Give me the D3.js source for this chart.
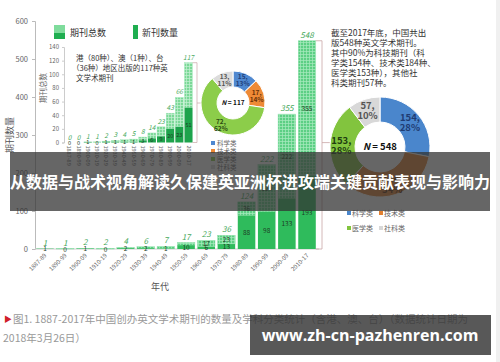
<!DOCTYPE html>
<html>
    <head>
        <title>英文学术期刊</title>
        <meta charset="utf-8">
        <script src="https://d3js.org/d3.v7.min.js"></script>
        <style>
            body { margin: 0; background: #fff; }
            text { font-family: "Noto Sans CJK SC", "Noto Sans", sans-serif; }
        </style>
    </head>
    <body>
        <script>
            // main chart: all journals (including HK/Macao/Taiwan)
            var decades = ["1887-89", "1890-99", "1900-09", "1910-19", "1920-29", "1930-39", "1940-49",
                           "1950-59", "1960-69", "1970-79", "1980-89", "1990-99", "2000-09", "2010-17"];
            var totals = [1, 1, 2, 2, 4, 6, 7, 17, 23, 36, 124, 222, 355, 548];
            var newCounts = [1, 0, 1, 0, 2, 2, 1, 10, 6, 13, 88, 98, 133, 193];
            var yTicks = [0, 100, 200, 300, 400, 500, 600];

            // inset: HK / Macao / Taiwan
            var hmtTotals = [0, 0, 1, 1, 2, 3, 4, 5, 8, 14, 23, 43, 66, 117];
            var hmtNew = [0, 0, 1, 0, 1, 1, 1, 1, 3, 6, 9, 20, 23, 51];
            var hmtTicks = [0, 20, 40, 60, 80, 100, 120, 140];

            // donuts
            var subjects = ["科学类", "技术类", "医学类", "社科类"];
            var hmtSubject = [15, 17, 72, 13];
            var hmtPct = ["13%", "14%", "62%", "11%"];
            var allSubject = [154, 184, 153, 57];
            var allPct = ["28%", "34%", "28%", "10%"];

            var W = 500, H = 362;
            var svg = d3.select("body").append("svg")
                    .attr("width", W).attr("height", H);

            var defs = svg.append("defs");
            function gridPattern(id, bg, line){
                var p = defs.append("pattern").attr("id", id)
                        .attr("width", 3).attr("height", 3)
                        .attr("patternUnits", "userSpaceOnUse");
                p.append("rect").attr("width", 3).attr("height", 3).attr("fill", bg);
                p.append("path").attr("d", "M0,0.5H3M0.5,0V3")
                        .attr("stroke", line).attr("stroke-width", 0.7);
            }
            gridPattern("gridMain", "#5ccf84", "#a8eabf");
            gridPattern("gridInset", "#7bd897", "#c4f0d2");

            var subjColors = ["#4f88d0", "#ee8a36", "#8ccd4a", "#dcdcdc"];
            var subjColors2 = ["#4a86cc", "#e38030", "#82c43e", "#d8d8d8"];

            // ---------- main chart ----------
            var x = d3.scaleBand().domain(decades).range([35, 317]).paddingInner(0.13).paddingOuter(0.06);
            var y = d3.scaleLinear().domain([0, 600]).range([249, 21]);

            var yAxis = svg.append("g").attr("transform", "translate(35,0)")
                    .call(d3.axisLeft(y).tickValues(yTicks).tickSize(3).tickPadding(4));
            yAxis.select(".domain").attr("stroke", "#bbb");
            yAxis.selectAll(".tick line").attr("stroke", "#bbb");
            yAxis.selectAll("text").attr("fill", "#666").style("font-size", "7.5px");

            svg.append("line").attr("x1", 35).attr("x2", 319)
                    .attr("y1", y(0)).attr("y2", y(0)).attr("stroke", "#ccc");

            svg.append("text").attr("transform", "translate(13,135) rotate(-90)")
                    .attr("text-anchor", "middle").attr("fill", "#555")
                    .style("font-size", "9px").text("期刊数量");

            var bars = svg.selectAll(".bar").data(decades).enter().append("g");
            bars.append("rect")
                    .attr("x", function(d){ return x(d); })
                    .attr("width", x.bandwidth())
                    .attr("y", function(d, i){ return y(totals[i]); })
                    .attr("height", function(d, i){ return y(newCounts[i]) - y(totals[i]); })
                    .attr("fill", "url(#gridMain)").attr("stroke", "#8fe0aa").attr("stroke-width", 0.5);
            bars.append("rect")
                    .attr("x", function(d){ return x(d); })
                    .attr("width", x.bandwidth())
                    .attr("y", function(d, i){ return y(newCounts[i]); })
                    .attr("height", function(d, i){ return y(0) - y(newCounts[i]); })
                    .attr("fill", "#2fbb5c");
            bars.append("text")
                    .attr("x", function(d){ return x(d) + x.bandwidth() / 2; })
                    .attr("y", function(d, i){ return y(totals[i]) - 3; })
                    .attr("text-anchor", "middle").attr("fill", "#45a85a")
                    .style("font-size", "8px").style("font-style", "italic")
                    .text(function(d, i){ return totals[i]; });
            bars.append("text")
                    .attr("x", function(d){ return x(d) + x.bandwidth() / 2; })
                    .attr("y", function(d, i){ return (y(0) + y(newCounts[i])) / 2 + 2.5; })
                    .attr("text-anchor", "middle").attr("fill", "#1d3d25")
                    .style("font-size", "6.5px")
                    .text(function(d, i){ return newCounts[i]; });
            bars.filter(function(d, i){ return i >= 8; }).append("text")
                    .attr("x", function(d){ return x(d) + x.bandwidth() / 2; })
                    .attr("y", function(d){ var i = decades.indexOf(d); return (y(totals[i]) + y(newCounts[i])) / 2 + 2.5; })
                    .attr("text-anchor", "middle").attr("fill", "#1d3d25")
                    .style("font-size", "6.5px")
                    .text(function(d){ var i = decades.indexOf(d); return totals[i] - newCounts[i]; });

            svg.selectAll(".xl").data(decades).enter().append("text")
                    .attr("transform", function(d){ return "translate(" + (x(d) + x.bandwidth() / 2 + 2) + "," + (y(0) + 7) + ") rotate(-45)"; })
                    .attr("text-anchor", "end").attr("fill", "#666")
                    .style("font-size", "6px").text(function(d){ return d; });
            svg.append("text").attr("x", 160).attr("y", 290).attr("text-anchor", "middle")
                    .attr("fill", "#555").style("font-size", "9px").text("年代");

            // legend
            svg.append("rect").attr("x", 54).attr("y", 25).attr("width", 11).attr("height", 8).attr("fill", "#7fdc9c");
            svg.append("rect").attr("x", 54).attr("y", 33).attr("width", 11).attr("height", 6).attr("fill", "#1fae50");
            svg.append("text").attr("x", 70).attr("y", 36).attr("fill", "#333").style("font-size", "9px").text("期刊总数");
            svg.append("rect").attr("x", 133).attr("y", 25).attr("width", 5).attr("height", 14).attr("fill", "#1fae50");
            svg.append("text").attr("x", 142).attr("y", 36).attr("fill", "#333").style("font-size", "9px").text("新刊数量");

            // bracket to right donut
            var lastX = x(decades[13]) + x.bandwidth();
            svg.append("path")
                    .attr("d", "M" + lastX + "," + y(548) + "H322V" + y(0) + "H" + lastX + "M322," + y(280) + "H330")
                    .attr("fill", "none").attr("stroke", "#c9a6a6").attr("stroke-width", 0.8);

            // ---------- inset ----------
            var xi = d3.scaleBand().domain(decades).range([65, 193]).paddingInner(0.12).paddingOuter(0.05);
            var yi = d3.scaleLinear().domain([0, 140]).range([142.5, 47]);

            var yiAxis = svg.append("g").attr("transform", "translate(64,0)")
                    .call(d3.axisLeft(yi).tickValues(hmtTicks).tickSize(2).tickPadding(3));
            yiAxis.select(".domain").attr("stroke", "#ccc");
            yiAxis.selectAll(".tick line").attr("stroke", "#ccc");
            yiAxis.selectAll("text").attr("fill", "#666").style("font-size", "6px");
            svg.append("text").attr("transform", "translate(46,88) rotate(-90)")
                    .attr("text-anchor", "middle").attr("fill", "#666")
                    .style("font-size", "7.5px").text("期刊总数");

            var ib = svg.selectAll(".ibar").data(decades).enter().append("g");
            ib.append("rect")
                    .attr("x", function(d){ return xi(d); })
                    .attr("width", xi.bandwidth())
                    .attr("y", function(d, i){ return yi(hmtTotals[i]); })
                    .attr("height", function(d, i){ return yi(hmtNew[i]) - yi(hmtTotals[i]); })
                    .attr("fill", "url(#gridInset)").attr("stroke", "#9fe5b6").attr("stroke-width", 0.4);
            ib.append("rect")
                    .attr("x", function(d){ return xi(d); })
                    .attr("width", xi.bandwidth())
                    .attr("y", function(d, i){ return yi(hmtNew[i]); })
                    .attr("height", function(d, i){ return yi(0) - yi(hmtNew[i]); })
                    .attr("fill", "#1ea34c");
            ib.append("text")
                    .attr("x", function(d){ return xi(d) + xi.bandwidth() / 2; })
                    .attr("y", function(d, i){ return yi(hmtTotals[i]) - 3; })
                    .attr("text-anchor", "middle").attr("fill", "#45a85a")
                    .style("font-size", "6.5px").style("font-style", "italic")
                    .text(function(d, i){ return hmtTotals[i]; });
            ib.append("text")
                    .attr("x", function(d){ return xi(d) + xi.bandwidth() / 2; })
                    .attr("y", function(d, i){ return (yi(0) + yi(hmtNew[i])) / 2 + 2; })
                    .attr("text-anchor", "middle").attr("fill", "#1d3d25")
                    .style("font-size", "5.5px")
                    .text(function(d, i){ return hmtNew[i]; });
            svg.selectAll(".xil").data(decades).enter().append("text")
                    .attr("transform", function(d){ return "translate(" + (xi(d) + xi.bandwidth() / 2 - 2) + "," + (yi(0) + 3) + ") rotate(90)"; })
                    .attr("fill", "#666").style("font-size", "5.5px").text(function(d){ return d; });

            var note = svg.append("text").attr("fill", "#333").style("font-size", "7.5px");
            ["港（80种）、澳（1种）、台", "（36种）地区出版的117种英", "文学术期刊"].forEach(function(s, k){
                note.append("tspan").attr("x", k === 1 ? 72 : 76).attr("y", 61 + k * 10).text(s);
            });

            var iLast = xi(decades[13]) + xi.bandwidth();
            svg.append("path")
                    .attr("d", "M" + iLast + "," + yi(117) + "H197V" + yi(0) + "H" + iLast + "M197,103H203")
                    .attr("fill", "none").attr("stroke", "#c9a6a6").attr("stroke-width", 0.7);

            // ---------- donuts ----------
            function donut(cx, cy, r0, r1, vals, pcts, colors, fs, nfs, labelColors, nText){
                var g = svg.append("g").attr("transform", "translate(" + cx + "," + cy + ")");
                var arcs = d3.pie().sort(null)(vals);
                var arc = d3.arc().innerRadius(r0).outerRadius(r1);
                g.selectAll("path").data(arcs).enter().append("path")
                        .attr("d", arc).attr("fill", function(d, i){ return colors[i]; })
                        .attr("stroke", "#fff").attr("stroke-width", 1);
                var lr = r0 + (r1 - r0) * 0.55;
                var lab = d3.arc().innerRadius(lr).outerRadius(lr);
                var t = g.selectAll(".lab").data(arcs).enter().append("text")
                        .attr("text-anchor", "middle").attr("fill", function(d, i){ return labelColors[i]; })
                        .style("font-size", fs + "px").style("font-weight", "bold");
                t.append("tspan").attr("x", function(d){ return lab.centroid(d)[0]; })
                        .attr("y", function(d){ return lab.centroid(d)[1] - fs * 0.15; })
                        .text(function(d){ return d.value + ","; });
                t.append("tspan").attr("x", function(d){ return lab.centroid(d)[0]; })
                        .attr("y", function(d){ return lab.centroid(d)[1] + fs * 0.95; })
                        .text(function(d, i){ return pcts[i]; });
                var n = g.append("text").attr("text-anchor", "middle").attr("y", nfs * 0.35)
                        .attr("fill", "#111").style("font-size", nfs + "px").style("font-weight", "bold");
                n.append("tspan").style("font-style", "italic").text("N");
                n.append("tspan").text(" = " + nText);
            }
            donut(233, 103, 16, 32, hmtSubject, hmtPct, subjColors, 6.5, 6.5,
                  ["#1f3f7a", "#6a3208", "#2b4a12", "#555"], "117");
            donut(380, 147, 25, 50, allSubject, allPct, subjColors2, 9.5, 9.5,
                  ["#1f3c73", "#5a2a08", "#1e3d10", "#555"], "548");

            // donut legends
            subjects.forEach(function(s, i){
                svg.append("rect").attr("x", 211).attr("y", 141 + i * 8).attr("width", 4).attr("height", 4).attr("fill", subjColors[i]);
                svg.append("text").attr("x", 217).attr("y", 146 + i * 8).attr("fill", "#666").style("font-size", "6.5px").text(s);
                var lx = 347 + (i % 2) * 32, ly = 211 + Math.floor(i / 2) * 15;
                svg.append("rect").attr("x", lx).attr("y", ly).attr("width", 4).attr("height", 4).attr("fill", subjColors2[i]);
                svg.append("text").attr("x", lx + 5).attr("y", ly + 5).attr("fill", "#666").style("font-size", "7px").text(s);
            });

            var rt = svg.append("text").attr("fill", "#333").style("font-size", "8.5px");
            ["截至2017年底，中国共出", "版548种英文学术期刊。", "其中90%为科技期刊（科",
             "学类154种、技术类184种、", "医学类153种），其他社", "科类期刊57种。"].forEach(function(s, k){
                rt.append("tspan").attr("x", 331).attr("y", 36 + k * 10).text(s);
            });

            // page side line
            svg.append("rect").attr("x", 496).attr("y", 0).attr("width", 4).attr("height", H).attr("fill", "#f0f0f0");

            // caption
            svg.append("text").attr("x", 4).attr("y", 322).attr("fill", "#d0202a").style("font-size", "8px").text("▶");
            svg.append("text").attr("x", 13).attr("y", 323).attr("fill", "#999").style("font-size", "10.5px")
                    .text("图1. 1887-2017年中国创办英文学术期刊的数量及学科分类统计（含港、澳、台）（数据统计日期为");
            svg.append("text").attr("x", 3).attr("y", 342).attr("fill", "#999").style("font-size", "10.5px")
                    .text("2018年3月26日）");

            // overlay banners
            svg.append("rect").attr("x", 10).attr("y", 152).attr("width", 480).attr("height", 59)
                    .attr("fill", "#333").attr("opacity", 0.75);
            svg.append("text").attr("x", 250).attr("y", 188).attr("text-anchor", "middle")
                    .attr("fill", "#fff").style("font-size", "16px").style("font-weight", "bold")
                    .text("从数据与战术视角解读久保建英亚洲杯进攻端关键贡献表现与影响力");
            svg.append("rect").attr("x", 250).attr("y", 315).attr("width", 241).attr("height", 40)
                    .attr("fill", "#333").attr("opacity", 0.82);
            svg.append("text").attr("x", 370).attr("y", 341).attr("text-anchor", "middle")
                    .attr("fill", "#fff").style("font-family", "'Open Sans', sans-serif")
                    .style("font-size", "16px").style("font-weight", "bold")
                    .text("www.zh-cn-pazhenren.com");
        </script>
    </body>
</html>
